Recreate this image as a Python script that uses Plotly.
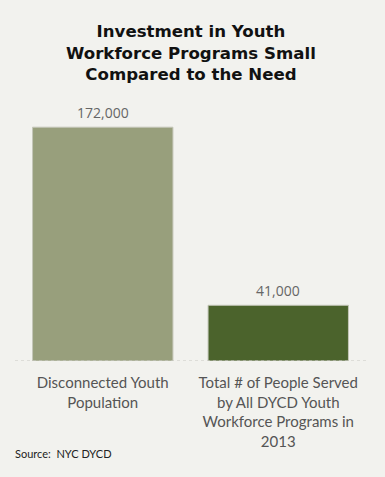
import plotly.graph_objects as go

categories = ["Disconnected Youth<br>Population",
              "Total # of People Served<br>by All DYCD Youth<br>Workforce Programs in<br>2013"]
values = [172000, 41000]
value_labels = ["172,000", "41,000"]
colors = ["#989f7c", "#4b632c"]

BG = "#f2f2ee"
FONT = "Lato, 'Open Sans', sans-serif"
VFONT = "'Open Sans', sans-serif"
TFONT = "'DejaVu Sans', sans-serif"

fig = go.Figure()
fig.add_trace(go.Bar(
    x=categories, y=values,
    marker=dict(color=colors, line=dict(color="#c4c6b8", width=1)),
    width=0.8, hoverinfo="skip",
))

for c, v, t in zip(categories, values, value_labels):
    fig.add_annotation(x=c, y=v, text=t, showarrow=False, yanchor="bottom",
                       yshift=3, font=dict(family=VFONT, size=14, color="#666666"))

fig.add_shape(type="line", xref="paper", yref="y", x0=0, x1=1, y0=0, y1=0,
              line=dict(color="#c8c8c2", width=1, dash="dot"))

fig.add_annotation(xref="paper", yref="paper", x=0, y=0, xanchor="left", yanchor="top",
                   xshift=-2, yshift=-84, text="Source:  NYC DYCD", showarrow=False,
                   font=dict(family=FONT, size=11, color="#222222"))

fig.update_layout(
    width=385, height=477,
    paper_bgcolor=BG, plot_bgcolor=BG,
    margin=dict(l=15, r=19, t=100, b=116),
    showlegend=False,
    title=dict(text="<b>Investment in Youth<br>Workforce Programs Small<br>Compared to the Need</b>",
               x=0.496, xanchor="center", xref="container",
               y=1, yref="container", yanchor="top", pad=dict(t=37),
               font=dict(family=TFONT, size=16.6, color="#111111")),
    xaxis=dict(showgrid=False, showline=False, zeroline=False, ticks="",
               tickfont=dict(family=FONT, size=15, color="#555555"), ticklabelstandoff=11),
    yaxis=dict(range=[0, 192000], visible=False, showgrid=False, zeroline=False),
)

fig.write_html("out.html", config={"displayModeBar": False},
               post_script="document.body.style.margin='0';document.body.style.background='#f2f2ee';")
